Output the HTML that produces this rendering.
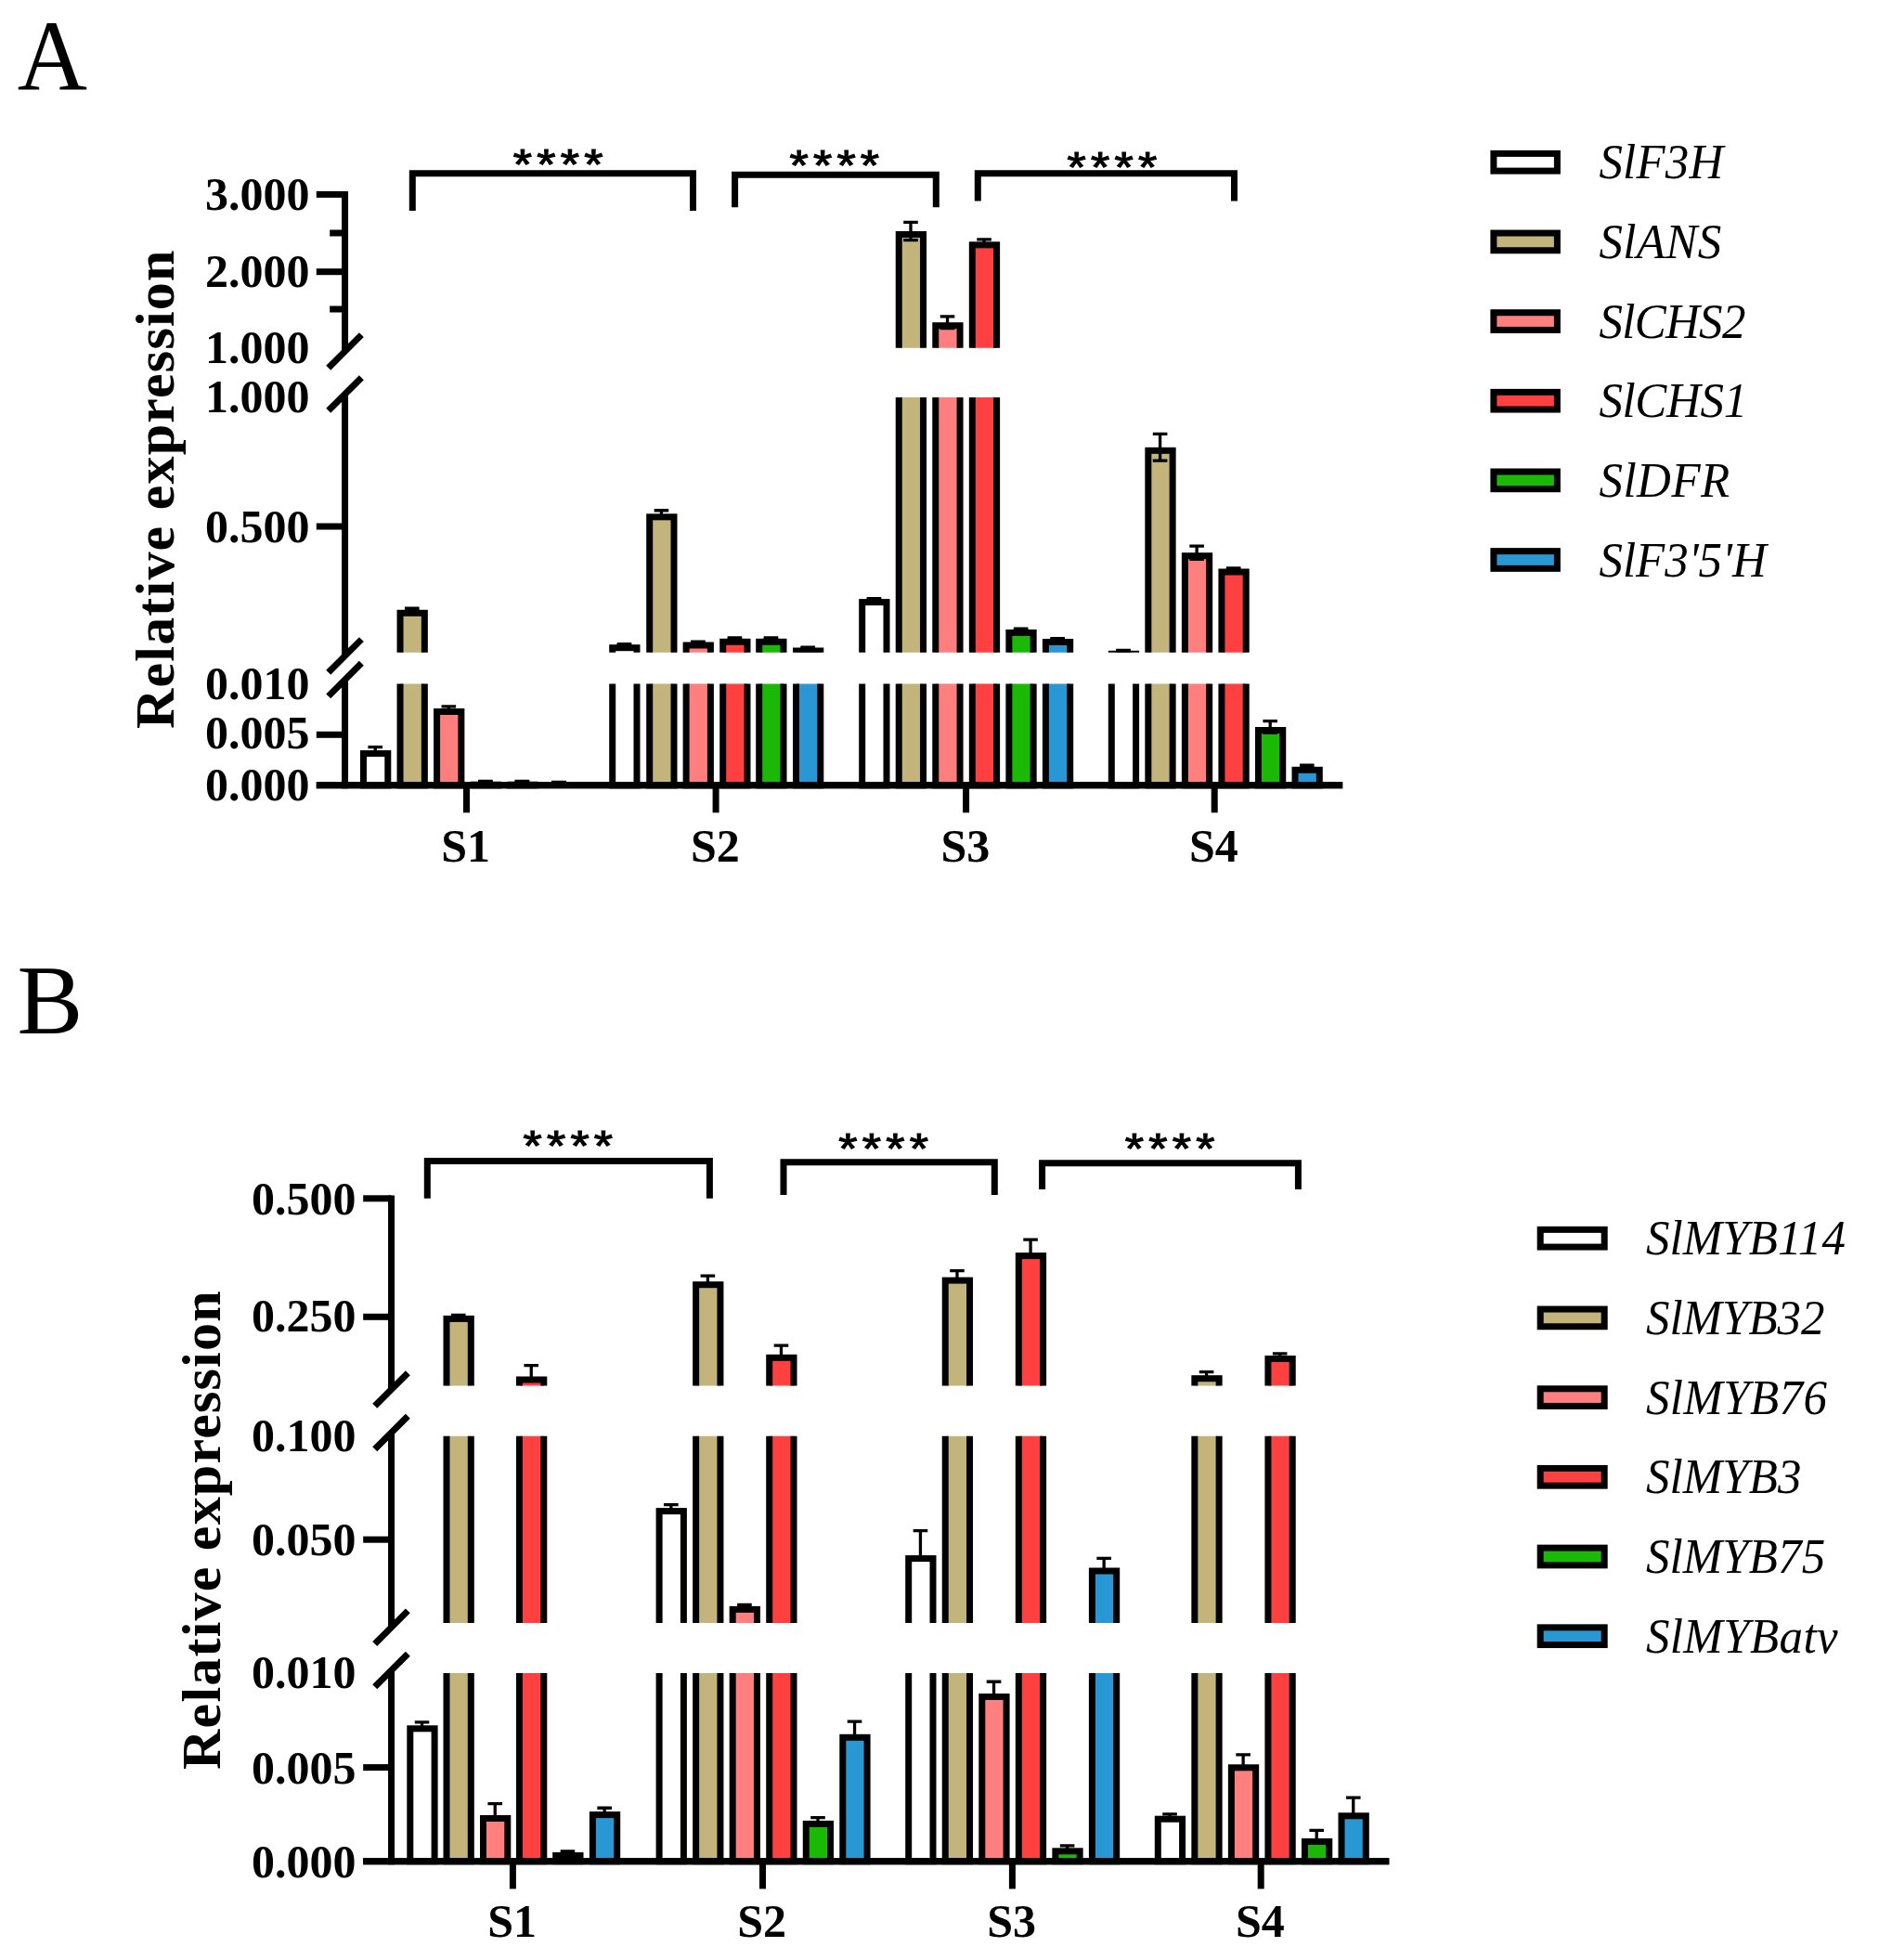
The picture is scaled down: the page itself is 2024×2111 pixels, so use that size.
<!DOCTYPE html>
<html lang="en"><head><meta charset="utf-8"><title>Relative expression</title>
<style>html,body{margin:0;padding:0;background:#fff;}svg{display:block;}text{fill:#000;}</style></head><body>
<svg width="2024" height="2111" viewBox="0 0 2024 2111">
<rect x="0" y="0" width="2024" height="2111" fill="#fff"/>
<text transform="translate(18.8 97.2) scale(0.968 1)" font-family='"Liberation Serif", serif' font-size="107.6">A</text>
<text x="18.5" y="1113" font-family='"Liberation Serif", serif' font-size="106.2" font-weight="normal" font-style="normal" text-anchor="start" >B</text>
<line x1="371.55" y1="206" x2="371.55" y2="378.45" stroke="#000" stroke-width="7" />
<line x1="371.55" y1="424.5" x2="371.55" y2="706.4" stroke="#000" stroke-width="7" />
<line x1="371.55" y1="732.1" x2="371.55" y2="849.35" stroke="#000" stroke-width="7" />
<line x1="353.75" y1="396.25" x2="389.35" y2="360.65" stroke="#000" stroke-width="7" />
<line x1="353.75" y1="442.3" x2="389.35" y2="406.7" stroke="#000" stroke-width="7" />
<line x1="353.75" y1="724.2" x2="389.35" y2="688.6" stroke="#000" stroke-width="7" />
<line x1="353.75" y1="749.9" x2="389.35" y2="714.3" stroke="#000" stroke-width="7" />
<line x1="340.8" y1="845.85" x2="1446.2" y2="845.85" stroke="#000" stroke-width="7" />
<line x1="340.8" y1="209.4" x2="371.55" y2="209.4" stroke="#000" stroke-width="7" />
<line x1="340.8" y1="292.7" x2="371.55" y2="292.7" stroke="#000" stroke-width="7" />
<line x1="340.8" y1="567" x2="371.55" y2="567" stroke="#000" stroke-width="7" />
<line x1="340.8" y1="791.3" x2="371.55" y2="791.3" stroke="#000" stroke-width="7" />
<line x1="355.2" y1="251" x2="371.55" y2="251" stroke="#000" stroke-width="7" />
<line x1="355.2" y1="333" x2="371.55" y2="333" stroke="#000" stroke-width="7" />
<text x="333.4" y="225.8" font-family='"Liberation Serif", serif' font-size="50" font-weight="bold" font-style="normal" text-anchor="end" >3.000</text>
<text x="333.4" y="308.8" font-family='"Liberation Serif", serif' font-size="50" font-weight="bold" font-style="normal" text-anchor="end" >2.000</text>
<text x="333.4" y="390.8" font-family='"Liberation Serif", serif' font-size="50" font-weight="bold" font-style="normal" text-anchor="end" >1.000</text>
<text x="333.4" y="444.1" font-family='"Liberation Serif", serif' font-size="50" font-weight="bold" font-style="normal" text-anchor="end" >1.000</text>
<text x="333.4" y="584.3" font-family='"Liberation Serif", serif' font-size="50" font-weight="bold" font-style="normal" text-anchor="end" >0.500</text>
<text x="333.4" y="753.1" font-family='"Liberation Serif", serif' font-size="50" font-weight="bold" font-style="normal" text-anchor="end" >0.010</text>
<text x="333.4" y="806.4" font-family='"Liberation Serif", serif' font-size="50" font-weight="bold" font-style="normal" text-anchor="end" >0.005</text>
<text x="333.4" y="861.9" font-family='"Liberation Serif", serif' font-size="50" font-weight="bold" font-style="normal" text-anchor="end" >0.000</text>
<line x1="502.5" y1="845.85" x2="502.5" y2="875.3" stroke="#000" stroke-width="7" />
<text x="501.7" y="928" font-family='"Liberation Serif", serif' font-size="50" font-weight="bold" font-style="normal" text-anchor="middle" >S1</text>
<line x1="771.1" y1="845.85" x2="771.1" y2="875.3" stroke="#000" stroke-width="7" />
<text x="770.3" y="928" font-family='"Liberation Serif", serif' font-size="50" font-weight="bold" font-style="normal" text-anchor="middle" >S2</text>
<line x1="1040.6" y1="845.85" x2="1040.6" y2="875.3" stroke="#000" stroke-width="7" />
<text x="1039.8" y="928" font-family='"Liberation Serif", serif' font-size="50" font-weight="bold" font-style="normal" text-anchor="middle" >S3</text>
<line x1="1308.2" y1="845.85" x2="1308.2" y2="875.3" stroke="#000" stroke-width="7" />
<text x="1307.4" y="928" font-family='"Liberation Serif", serif' font-size="50" font-weight="bold" font-style="normal" text-anchor="middle" >S4</text>
<text transform="translate(187.4 526.75) rotate(-90)" font-family='"Liberation Serif", serif' font-size="60" font-weight="bold" text-anchor="middle" letter-spacing="1.2">Relative expression</text>
<clipPath id="cba"><rect x="376" y="100" width="1200" height="274.8"/><rect x="376" y="428" width="1200" height="274.7"/><rect x="376" y="736.4" width="1200" height="200"/></clipPath>
<g clip-path="url(#cba)">
<rect x="391.5" y="811.6" width="26.3" height="34.25" fill="#FFFFFF" stroke="#000" stroke-width="7"/>
<line x1="404.25" y1="804.7" x2="404.25" y2="811.5" stroke="#000" stroke-width="3.3" />
<line x1="396.45" y1="804.7" x2="412.05" y2="804.7" stroke="#000" stroke-width="3.3" />
<line x1="396.45" y1="811.5" x2="412.05" y2="811.5" stroke="#000" stroke-width="3.3" />
<rect x="431.04" y="660.3" width="26.3" height="185.55" fill="#C2B47A" stroke="#000" stroke-width="7"/>
<line x1="443.79" y1="655.25" x2="443.79" y2="658.35" stroke="#000" stroke-width="3.3" />
<line x1="435.99" y1="655.25" x2="451.59" y2="655.25" stroke="#000" stroke-width="3.3" />
<line x1="435.99" y1="658.35" x2="451.59" y2="658.35" stroke="#000" stroke-width="3.3" />
<rect x="470.58" y="766.5" width="26.3" height="79.35" fill="#FF7F7F" stroke="#000" stroke-width="7"/>
<line x1="483.33" y1="760.85" x2="483.33" y2="765.15" stroke="#000" stroke-width="3.3" />
<line x1="475.53" y1="760.85" x2="491.13" y2="760.85" stroke="#000" stroke-width="3.3" />
<line x1="475.53" y1="765.15" x2="491.13" y2="765.15" stroke="#000" stroke-width="3.3" />
<rect x="510.12" y="845.2" width="26.3" height="0.65" fill="#FF4040" stroke="#000" stroke-width="7"/>
<line x1="522.87" y1="841.5" x2="522.87" y2="841.9" stroke="#000" stroke-width="3.3" />
<line x1="515.07" y1="841.5" x2="530.67" y2="841.5" stroke="#000" stroke-width="3.3" />
<line x1="515.07" y1="841.9" x2="530.67" y2="841.9" stroke="#000" stroke-width="3.3" />
<rect x="549.66" y="845.2" width="26.3" height="0.65" fill="#1AB905" stroke="#000" stroke-width="7"/>
<line x1="562.41" y1="841.5" x2="562.41" y2="841.9" stroke="#000" stroke-width="3.3" />
<line x1="554.61" y1="841.5" x2="570.21" y2="841.5" stroke="#000" stroke-width="3.3" />
<line x1="554.61" y1="841.9" x2="570.21" y2="841.9" stroke="#000" stroke-width="3.3" />
<line x1="601.95" y1="842.5" x2="601.95" y2="842.9" stroke="#000" stroke-width="3.3" />
<line x1="594.15" y1="842.5" x2="609.75" y2="842.5" stroke="#000" stroke-width="3.3" />
<line x1="594.15" y1="842.9" x2="609.75" y2="842.9" stroke="#000" stroke-width="3.3" />
<rect x="659.7" y="697.7" width="26.3" height="148.15" fill="#FFFFFF" stroke="#000" stroke-width="7"/>
<line x1="672.45" y1="693.65" x2="672.45" y2="694.75" stroke="#000" stroke-width="3.3" />
<line x1="664.65" y1="693.65" x2="680.25" y2="693.65" stroke="#000" stroke-width="3.3" />
<line x1="664.65" y1="694.75" x2="680.25" y2="694.75" stroke="#000" stroke-width="3.3" />
<rect x="699.7" y="556.8" width="26.3" height="289.05" fill="#C2B47A" stroke="#000" stroke-width="7"/>
<line x1="712.45" y1="549.75" x2="712.45" y2="556.85" stroke="#000" stroke-width="3.3" />
<line x1="704.65" y1="549.75" x2="720.25" y2="549.75" stroke="#000" stroke-width="3.3" />
<line x1="704.65" y1="556.85" x2="720.25" y2="556.85" stroke="#000" stroke-width="3.3" />
<rect x="739.1" y="695" width="26.3" height="150.85" fill="#FF7F7F" stroke="#000" stroke-width="7"/>
<line x1="751.85" y1="691.2" x2="751.85" y2="691.8" stroke="#000" stroke-width="3.3" />
<line x1="744.05" y1="691.2" x2="759.65" y2="691.2" stroke="#000" stroke-width="3.3" />
<line x1="744.05" y1="691.8" x2="759.65" y2="691.8" stroke="#000" stroke-width="3.3" />
<rect x="778.7" y="691.3" width="26.3" height="154.55" fill="#FF4040" stroke="#000" stroke-width="7"/>
<line x1="791.45" y1="686.85" x2="791.45" y2="688.75" stroke="#000" stroke-width="3.3" />
<line x1="783.65" y1="686.85" x2="799.25" y2="686.85" stroke="#000" stroke-width="3.3" />
<line x1="783.65" y1="688.75" x2="799.25" y2="688.75" stroke="#000" stroke-width="3.3" />
<rect x="817.7" y="691.3" width="26.3" height="154.55" fill="#1AB905" stroke="#000" stroke-width="7"/>
<line x1="830.45" y1="686.85" x2="830.45" y2="688.75" stroke="#000" stroke-width="3.3" />
<line x1="822.65" y1="686.85" x2="838.25" y2="686.85" stroke="#000" stroke-width="3.3" />
<line x1="822.65" y1="688.75" x2="838.25" y2="688.75" stroke="#000" stroke-width="3.3" />
<rect x="857.5" y="701" width="26.3" height="144.85" fill="#2897D4" stroke="#000" stroke-width="7"/>
<line x1="870.25" y1="697.15" x2="870.25" y2="697.85" stroke="#000" stroke-width="3.3" />
<line x1="862.45" y1="697.15" x2="878.05" y2="697.15" stroke="#000" stroke-width="3.3" />
<line x1="862.45" y1="697.85" x2="878.05" y2="697.85" stroke="#000" stroke-width="3.3" />
<rect x="928.7" y="648.6" width="26.3" height="197.25" fill="#FFFFFF" stroke="#000" stroke-width="7"/>
<line x1="941.45" y1="644.65" x2="941.45" y2="645.55" stroke="#000" stroke-width="3.3" />
<line x1="933.65" y1="644.65" x2="949.25" y2="644.65" stroke="#000" stroke-width="3.3" />
<line x1="933.65" y1="645.55" x2="949.25" y2="645.55" stroke="#000" stroke-width="3.3" />
<rect x="968.24" y="252.5" width="26.3" height="593.35" fill="#C2B47A" stroke="#000" stroke-width="7"/>
<line x1="980.99" y1="239.45" x2="980.99" y2="258.55" stroke="#000" stroke-width="3.3" />
<line x1="973.19" y1="239.45" x2="988.79" y2="239.45" stroke="#000" stroke-width="3.3" />
<line x1="973.19" y1="258.55" x2="988.79" y2="258.55" stroke="#000" stroke-width="3.3" />
<rect x="1007.78" y="350.7" width="26.3" height="495.15" fill="#FF7F7F" stroke="#000" stroke-width="7"/>
<line x1="1020.53" y1="340.9" x2="1020.53" y2="353.5" stroke="#000" stroke-width="3.3" />
<line x1="1012.73" y1="340.9" x2="1028.33" y2="340.9" stroke="#000" stroke-width="3.3" />
<line x1="1012.73" y1="353.5" x2="1028.33" y2="353.5" stroke="#000" stroke-width="3.3" />
<rect x="1047.32" y="263.8" width="26.3" height="582.05" fill="#FF4040" stroke="#000" stroke-width="7"/>
<line x1="1060.07" y1="257.8" x2="1060.07" y2="262.8" stroke="#000" stroke-width="3.3" />
<line x1="1052.27" y1="257.8" x2="1067.87" y2="257.8" stroke="#000" stroke-width="3.3" />
<line x1="1052.27" y1="262.8" x2="1067.87" y2="262.8" stroke="#000" stroke-width="3.3" />
<rect x="1086.86" y="681.5" width="26.3" height="164.35" fill="#1AB905" stroke="#000" stroke-width="7"/>
<line x1="1099.61" y1="677.05" x2="1099.61" y2="678.95" stroke="#000" stroke-width="3.3" />
<line x1="1091.81" y1="677.05" x2="1107.41" y2="677.05" stroke="#000" stroke-width="3.3" />
<line x1="1091.81" y1="678.95" x2="1107.41" y2="678.95" stroke="#000" stroke-width="3.3" />
<rect x="1126.4" y="691.5" width="26.3" height="154.35" fill="#2897D4" stroke="#000" stroke-width="7"/>
<line x1="1139.15" y1="687.65" x2="1139.15" y2="688.35" stroke="#000" stroke-width="3.3" />
<line x1="1131.35" y1="687.65" x2="1146.95" y2="687.65" stroke="#000" stroke-width="3.3" />
<line x1="1131.35" y1="688.35" x2="1146.95" y2="688.35" stroke="#000" stroke-width="3.3" />
<rect x="1197.3" y="704.3" width="26.3" height="141.55" fill="#FFFFFF" stroke="#000" stroke-width="7"/>
<line x1="1210.05" y1="700.5" x2="1210.05" y2="701.1" stroke="#000" stroke-width="3.3" />
<line x1="1202.25" y1="700.5" x2="1217.85" y2="700.5" stroke="#000" stroke-width="3.3" />
<line x1="1202.25" y1="701.1" x2="1217.85" y2="701.1" stroke="#000" stroke-width="3.3" />
<rect x="1236.84" y="485.3" width="26.3" height="360.55" fill="#C2B47A" stroke="#000" stroke-width="7"/>
<line x1="1249.59" y1="467.4" x2="1249.59" y2="496.2" stroke="#000" stroke-width="3.3" />
<line x1="1241.79" y1="467.4" x2="1257.39" y2="467.4" stroke="#000" stroke-width="3.3" />
<line x1="1241.79" y1="496.2" x2="1257.39" y2="496.2" stroke="#000" stroke-width="3.3" />
<rect x="1276.38" y="598.7" width="26.3" height="247.15" fill="#FF7F7F" stroke="#000" stroke-width="7"/>
<line x1="1289.13" y1="588.15" x2="1289.13" y2="602.25" stroke="#000" stroke-width="3.3" />
<line x1="1281.33" y1="588.15" x2="1296.93" y2="588.15" stroke="#000" stroke-width="3.3" />
<line x1="1281.33" y1="602.25" x2="1296.93" y2="602.25" stroke="#000" stroke-width="3.3" />
<rect x="1315.92" y="616" width="26.3" height="229.85" fill="#FF4040" stroke="#000" stroke-width="7"/>
<line x1="1328.67" y1="611.95" x2="1328.67" y2="613.05" stroke="#000" stroke-width="3.3" />
<line x1="1320.87" y1="611.95" x2="1336.47" y2="611.95" stroke="#000" stroke-width="3.3" />
<line x1="1320.87" y1="613.05" x2="1336.47" y2="613.05" stroke="#000" stroke-width="3.3" />
<rect x="1355.46" y="786.5" width="26.3" height="59.35" fill="#1AB905" stroke="#000" stroke-width="7"/>
<line x1="1368.21" y1="776.65" x2="1368.21" y2="789.35" stroke="#000" stroke-width="3.3" />
<line x1="1360.41" y1="776.65" x2="1376.01" y2="776.65" stroke="#000" stroke-width="3.3" />
<line x1="1360.41" y1="789.35" x2="1376.01" y2="789.35" stroke="#000" stroke-width="3.3" />
<rect x="1395" y="829.3" width="26.3" height="16.55" fill="#2897D4" stroke="#000" stroke-width="7"/>
<line x1="1407.75" y1="824.25" x2="1407.75" y2="827.35" stroke="#000" stroke-width="3.3" />
<line x1="1399.95" y1="824.25" x2="1415.55" y2="824.25" stroke="#000" stroke-width="3.3" />
<line x1="1399.95" y1="827.35" x2="1415.55" y2="827.35" stroke="#000" stroke-width="3.3" />
</g>
<line x1="340.8" y1="845.85" x2="1446.2" y2="845.85" stroke="#000" stroke-width="7" />
<path d="M444.3 226.9 V186.7 H746.5 V226.9" fill="none" stroke="#000" stroke-width="7" stroke-linejoin="miter"/>
<path d="M791.6 223.2 V188.2 H1008.3 V223.2" fill="none" stroke="#000" stroke-width="7" stroke-linejoin="miter"/>
<path d="M1053.3 216.4 V186.8 H1329.5 V216.4" fill="none" stroke="#000" stroke-width="7" stroke-linejoin="miter"/>
<text transform="translate(603.8 192.7) scale(1 0.9)" font-family='"Liberation Sans", sans-serif' font-size="52" stroke="#000" stroke-width="1.3" stroke-linejoin="miter" text-anchor="middle" letter-spacing="5.25">****</text>
<text transform="translate(901.4 194.2) scale(1 0.9)" font-family='"Liberation Sans", sans-serif' font-size="52" stroke="#000" stroke-width="1.3" stroke-linejoin="miter" text-anchor="middle" letter-spacing="5.25">****</text>
<text transform="translate(1200.5 196.2) scale(1 0.9)" font-family='"Liberation Sans", sans-serif' font-size="52" stroke="#000" stroke-width="1.3" stroke-linejoin="miter" text-anchor="middle" letter-spacing="5.25">****</text>
<rect x="1608.9" y="165.4" width="68.5" height="18.7" fill="#FFFFFF" stroke="#000" stroke-width="7"/>
<text transform="translate(1722.4 192.35) scale(1 1.03)" font-family='"Liberation Serif", serif' font-size="51" font-style="italic" letter-spacing="0.2">SlF3H</text>
<rect x="1608.9" y="251.05" width="68.5" height="18.7" fill="#C2B47A" stroke="#000" stroke-width="7"/>
<text transform="translate(1722.4 278) scale(1 1.03)" font-family='"Liberation Serif", serif' font-size="51" font-style="italic" letter-spacing="0.35">SlANS</text>
<rect x="1608.9" y="336.7" width="68.5" height="18.7" fill="#FF7F7F" stroke="#000" stroke-width="7"/>
<text transform="translate(1722.4 363.65) scale(1 1.03)" font-family='"Liberation Serif", serif' font-size="51" font-style="italic" letter-spacing="-0.7">SlCHS2</text>
<rect x="1608.9" y="422.35" width="68.5" height="18.7" fill="#FF4040" stroke="#000" stroke-width="7"/>
<text transform="translate(1722.4 449.3) scale(1 1.03)" font-family='"Liberation Serif", serif' font-size="51" font-style="italic" letter-spacing="-0.35">SlCHS1</text>
<rect x="1608.9" y="508" width="68.5" height="18.7" fill="#1AB905" stroke="#000" stroke-width="7"/>
<text transform="translate(1722.4 534.95) scale(1 1.03)" font-family='"Liberation Serif", serif' font-size="51" font-style="italic" letter-spacing="0.5">SlDFR</text>
<rect x="1608.9" y="593.65" width="68.5" height="18.7" fill="#2897D4" stroke="#000" stroke-width="7"/>
<text transform="translate(1722.4 620.6) scale(1 1.03)" font-family='"Liberation Serif", serif' font-size="51" font-style="italic" letter-spacing="0.0">SlF3'5'H</text>
<line x1="421.55" y1="1287.5" x2="421.55" y2="1496.5" stroke="#000" stroke-width="7" />
<line x1="421.55" y1="1543" x2="421.55" y2="1752.7" stroke="#000" stroke-width="7" />
<line x1="421.55" y1="1799" x2="421.55" y2="2008.2" stroke="#000" stroke-width="7" />
<line x1="403.75" y1="1514.3" x2="439.35" y2="1478.7" stroke="#000" stroke-width="7" />
<line x1="403.75" y1="1560.8" x2="439.35" y2="1525.2" stroke="#000" stroke-width="7" />
<line x1="403.75" y1="1770.5" x2="439.35" y2="1734.9" stroke="#000" stroke-width="7" />
<line x1="403.75" y1="1816.8" x2="439.35" y2="1781.2" stroke="#000" stroke-width="7" />
<line x1="391.2" y1="2004.7" x2="1496.3" y2="2004.7" stroke="#000" stroke-width="7" />
<line x1="391.2" y1="1290.8" x2="421.55" y2="1290.8" stroke="#000" stroke-width="7" />
<line x1="391.2" y1="1418.3" x2="421.55" y2="1418.3" stroke="#000" stroke-width="7" />
<line x1="391.2" y1="1658.2" x2="421.55" y2="1658.2" stroke="#000" stroke-width="7" />
<line x1="391.2" y1="1903.6" x2="421.55" y2="1903.6" stroke="#000" stroke-width="7" />
<text x="383.4" y="1307.8" font-family='"Liberation Serif", serif' font-size="50" font-weight="bold" font-style="normal" text-anchor="end" >0.500</text>
<text x="383.4" y="1434.4" font-family='"Liberation Serif", serif' font-size="50" font-weight="bold" font-style="normal" text-anchor="end" >0.250</text>
<text x="383.4" y="1563.1" font-family='"Liberation Serif", serif' font-size="50" font-weight="bold" font-style="normal" text-anchor="end" >0.100</text>
<text x="383.4" y="1675.1" font-family='"Liberation Serif", serif' font-size="50" font-weight="bold" font-style="normal" text-anchor="end" >0.050</text>
<text x="383.4" y="1818.1" font-family='"Liberation Serif", serif' font-size="50" font-weight="bold" font-style="normal" text-anchor="end" >0.010</text>
<text x="383.4" y="1920.7" font-family='"Liberation Serif", serif' font-size="50" font-weight="bold" font-style="normal" text-anchor="end" >0.005</text>
<text x="383.4" y="2021.6" font-family='"Liberation Serif", serif' font-size="50" font-weight="bold" font-style="normal" text-anchor="end" >0.000</text>
<line x1="552.4" y1="2004.7" x2="552.4" y2="2034.4" stroke="#000" stroke-width="7" />
<text x="551.6" y="2086.3" font-family='"Liberation Serif", serif' font-size="50" font-weight="bold" font-style="normal" text-anchor="middle" >S1</text>
<line x1="821.5" y1="2004.7" x2="821.5" y2="2034.4" stroke="#000" stroke-width="7" />
<text x="820.7" y="2086.3" font-family='"Liberation Serif", serif' font-size="50" font-weight="bold" font-style="normal" text-anchor="middle" >S2</text>
<line x1="1090.4" y1="2004.7" x2="1090.4" y2="2034.4" stroke="#000" stroke-width="7" />
<text x="1089.6" y="2086.3" font-family='"Liberation Serif", serif' font-size="50" font-weight="bold" font-style="normal" text-anchor="middle" >S3</text>
<line x1="1358.2" y1="2004.7" x2="1358.2" y2="2034.4" stroke="#000" stroke-width="7" />
<text x="1357.4" y="2086.3" font-family='"Liberation Serif", serif' font-size="50" font-weight="bold" font-style="normal" text-anchor="middle" >S4</text>
<text transform="translate(237.4 1647.6) rotate(-90)" font-family='"Liberation Serif", serif' font-size="60" font-weight="bold" text-anchor="middle" letter-spacing="1.2">Relative expression</text>
<clipPath id="cbb"><rect x="426" y="1200" width="1200" height="292.6"/><rect x="426" y="1546.8" width="1200" height="201.2"/><rect x="426" y="1802" width="1200" height="300"/></clipPath>
<g clip-path="url(#cbb)">
<rect x="441.8" y="1861.8" width="26.3" height="142.9" fill="#FFFFFF" stroke="#000" stroke-width="7"/>
<line x1="454.55" y1="1854.85" x2="454.55" y2="1859.3" stroke="#000" stroke-width="3.3" />
<line x1="446.75" y1="1854.85" x2="462.35" y2="1854.85" stroke="#000" stroke-width="3.3" />
<rect x="481" y="1420.4" width="26.3" height="584.3" fill="#C2B47A" stroke="#000" stroke-width="7"/>
<line x1="493.75" y1="1416.35" x2="493.75" y2="1417.9" stroke="#000" stroke-width="3.3" />
<line x1="485.95" y1="1416.35" x2="501.55" y2="1416.35" stroke="#000" stroke-width="3.3" />
<rect x="520.5" y="1958.5" width="26.3" height="46.2" fill="#FF7F7F" stroke="#000" stroke-width="7"/>
<line x1="533.25" y1="1942.55" x2="533.25" y2="1956" stroke="#000" stroke-width="3.3" />
<line x1="525.45" y1="1942.55" x2="541.05" y2="1942.55" stroke="#000" stroke-width="3.3" />
<rect x="559.5" y="1486" width="26.3" height="518.7" fill="#FF4040" stroke="#000" stroke-width="7"/>
<line x1="572.25" y1="1470.65" x2="572.25" y2="1483.5" stroke="#000" stroke-width="3.3" />
<line x1="564.45" y1="1470.65" x2="580.05" y2="1470.65" stroke="#000" stroke-width="3.3" />
<rect x="598.7" y="1998.5" width="26.3" height="6.2" fill="#1AB905" stroke="#000" stroke-width="7"/>
<line x1="611.45" y1="1993.95" x2="611.45" y2="1996" stroke="#000" stroke-width="3.3" />
<line x1="603.65" y1="1993.95" x2="619.25" y2="1993.95" stroke="#000" stroke-width="3.3" />
<rect x="638.4" y="1954.6" width="26.3" height="50.1" fill="#2897D4" stroke="#000" stroke-width="7"/>
<line x1="651.15" y1="1947.25" x2="651.15" y2="1952.1" stroke="#000" stroke-width="3.3" />
<line x1="643.35" y1="1947.25" x2="658.95" y2="1947.25" stroke="#000" stroke-width="3.3" />
<rect x="710.1" y="1627.6" width="26.3" height="377.1" fill="#FFFFFF" stroke="#000" stroke-width="7"/>
<line x1="722.85" y1="1620.65" x2="722.85" y2="1625.1" stroke="#000" stroke-width="3.3" />
<line x1="715.05" y1="1620.65" x2="730.65" y2="1620.65" stroke="#000" stroke-width="3.3" />
<rect x="749.64" y="1383.7" width="26.3" height="621" fill="#C2B47A" stroke="#000" stroke-width="7"/>
<line x1="762.39" y1="1374.15" x2="762.39" y2="1381.2" stroke="#000" stroke-width="3.3" />
<line x1="754.59" y1="1374.15" x2="770.19" y2="1374.15" stroke="#000" stroke-width="3.3" />
<rect x="789.18" y="1733.4" width="26.3" height="271.3" fill="#FF7F7F" stroke="#000" stroke-width="7"/>
<line x1="801.93" y1="1728.45" x2="801.93" y2="1730.9" stroke="#000" stroke-width="3.3" />
<line x1="794.13" y1="1728.45" x2="809.73" y2="1728.45" stroke="#000" stroke-width="3.3" />
<rect x="828.72" y="1462.3" width="26.3" height="542.4" fill="#FF4040" stroke="#000" stroke-width="7"/>
<line x1="841.47" y1="1449.05" x2="841.47" y2="1459.8" stroke="#000" stroke-width="3.3" />
<line x1="833.67" y1="1449.05" x2="849.27" y2="1449.05" stroke="#000" stroke-width="3.3" />
<rect x="868.26" y="1964.4" width="26.3" height="40.3" fill="#1AB905" stroke="#000" stroke-width="7"/>
<line x1="881.01" y1="1957.65" x2="881.01" y2="1961.9" stroke="#000" stroke-width="3.3" />
<line x1="873.21" y1="1957.65" x2="888.81" y2="1957.65" stroke="#000" stroke-width="3.3" />
<rect x="907.8" y="1871.3" width="26.3" height="133.4" fill="#2897D4" stroke="#000" stroke-width="7"/>
<line x1="920.55" y1="1854.05" x2="920.55" y2="1868.8" stroke="#000" stroke-width="3.3" />
<line x1="912.75" y1="1854.05" x2="928.35" y2="1854.05" stroke="#000" stroke-width="3.3" />
<rect x="978.7" y="1678.6" width="26.3" height="326.1" fill="#FFFFFF" stroke="#000" stroke-width="7"/>
<line x1="991.45" y1="1648.65" x2="991.45" y2="1676.1" stroke="#000" stroke-width="3.3" />
<line x1="983.65" y1="1648.65" x2="999.25" y2="1648.65" stroke="#000" stroke-width="3.3" />
<rect x="1018.24" y="1379.1" width="26.3" height="625.6" fill="#C2B47A" stroke="#000" stroke-width="7"/>
<line x1="1030.99" y1="1368.65" x2="1030.99" y2="1376.6" stroke="#000" stroke-width="3.3" />
<line x1="1023.19" y1="1368.65" x2="1038.79" y2="1368.65" stroke="#000" stroke-width="3.3" />
<rect x="1057.78" y="1827.5" width="26.3" height="177.2" fill="#FF7F7F" stroke="#000" stroke-width="7"/>
<line x1="1070.53" y1="1811.25" x2="1070.53" y2="1825" stroke="#000" stroke-width="3.3" />
<line x1="1062.73" y1="1811.25" x2="1078.33" y2="1811.25" stroke="#000" stroke-width="3.3" />
<rect x="1097.32" y="1352.6" width="26.3" height="652.1" fill="#FF4040" stroke="#000" stroke-width="7"/>
<line x1="1110.07" y1="1335.15" x2="1110.07" y2="1350.1" stroke="#000" stroke-width="3.3" />
<line x1="1102.27" y1="1335.15" x2="1117.87" y2="1335.15" stroke="#000" stroke-width="3.3" />
<rect x="1136.86" y="1993.8" width="26.3" height="10.9" fill="#1AB905" stroke="#000" stroke-width="7"/>
<line x1="1149.61" y1="1987.85" x2="1149.61" y2="1991.3" stroke="#000" stroke-width="3.3" />
<line x1="1141.81" y1="1987.85" x2="1157.41" y2="1987.85" stroke="#000" stroke-width="3.3" />
<rect x="1176.4" y="1692" width="26.3" height="312.7" fill="#2897D4" stroke="#000" stroke-width="7"/>
<line x1="1189.15" y1="1678.45" x2="1189.15" y2="1689.5" stroke="#000" stroke-width="3.3" />
<line x1="1181.35" y1="1678.45" x2="1196.95" y2="1678.45" stroke="#000" stroke-width="3.3" />
<rect x="1247.3" y="1959.2" width="26.3" height="45.5" fill="#FFFFFF" stroke="#000" stroke-width="7"/>
<line x1="1260.05" y1="1953.95" x2="1260.05" y2="1956.7" stroke="#000" stroke-width="3.3" />
<line x1="1252.25" y1="1953.95" x2="1267.85" y2="1953.95" stroke="#000" stroke-width="3.3" />
<rect x="1286.84" y="1484.7" width="26.3" height="520" fill="#C2B47A" stroke="#000" stroke-width="7"/>
<line x1="1299.59" y1="1477.55" x2="1299.59" y2="1482.2" stroke="#000" stroke-width="3.3" />
<line x1="1291.79" y1="1477.55" x2="1307.39" y2="1477.55" stroke="#000" stroke-width="3.3" />
<rect x="1326.38" y="1903.8" width="26.3" height="100.9" fill="#FF7F7F" stroke="#000" stroke-width="7"/>
<line x1="1339.13" y1="1889.95" x2="1339.13" y2="1901.3" stroke="#000" stroke-width="3.3" />
<line x1="1331.33" y1="1889.95" x2="1346.93" y2="1889.95" stroke="#000" stroke-width="3.3" />
<rect x="1365.92" y="1463.5" width="26.3" height="541.2" fill="#FF4040" stroke="#000" stroke-width="7"/>
<line x1="1378.67" y1="1457.85" x2="1378.67" y2="1461" stroke="#000" stroke-width="3.3" />
<line x1="1370.87" y1="1457.85" x2="1386.47" y2="1457.85" stroke="#000" stroke-width="3.3" />
<rect x="1405.46" y="1983.5" width="26.3" height="21.2" fill="#1AB905" stroke="#000" stroke-width="7"/>
<line x1="1418.21" y1="1971.45" x2="1418.21" y2="1981" stroke="#000" stroke-width="3.3" />
<line x1="1410.41" y1="1971.45" x2="1426.01" y2="1971.45" stroke="#000" stroke-width="3.3" />
<rect x="1445" y="1955.8" width="26.3" height="48.9" fill="#2897D4" stroke="#000" stroke-width="7"/>
<line x1="1457.75" y1="1936.15" x2="1457.75" y2="1953.3" stroke="#000" stroke-width="3.3" />
<line x1="1449.95" y1="1936.15" x2="1465.55" y2="1936.15" stroke="#000" stroke-width="3.3" />
</g>
<line x1="391.2" y1="2004.7" x2="1496.3" y2="2004.7" stroke="#000" stroke-width="7" />
<path d="M460.3 1290.8 V1250.5 H764.4 V1290.8" fill="none" stroke="#000" stroke-width="7" stroke-linejoin="miter"/>
<path d="M844 1287 V1251.7 H1071.3 V1287" fill="none" stroke="#000" stroke-width="7" stroke-linejoin="miter"/>
<path d="M1122.6 1281 V1252.8 H1398.4 V1281" fill="none" stroke="#000" stroke-width="7" stroke-linejoin="miter"/>
<text transform="translate(614.4 1249.7) scale(1 0.9)" font-family='"Liberation Sans", sans-serif' font-size="52" stroke="#000" stroke-width="1.3" stroke-linejoin="miter" text-anchor="middle" letter-spacing="5.25">****</text>
<text transform="translate(954.2 1253.2) scale(1 0.9)" font-family='"Liberation Sans", sans-serif' font-size="52" stroke="#000" stroke-width="1.3" stroke-linejoin="miter" text-anchor="middle" letter-spacing="5.25">****</text>
<text transform="translate(1262.8 1253.2) scale(1 0.9)" font-family='"Liberation Sans", sans-serif' font-size="52" stroke="#000" stroke-width="1.3" stroke-linejoin="miter" text-anchor="middle" letter-spacing="5.25">****</text>
<rect x="1659.2" y="1324.35" width="69" height="18.7" fill="#FFFFFF" stroke="#000" stroke-width="7"/>
<text transform="translate(1772.9 1351.1) scale(1 1.03)" font-family='"Liberation Serif", serif' font-size="51" font-style="italic" letter-spacing="0.1">SlMYB114</text>
<rect x="1659.2" y="1410.05" width="69" height="18.7" fill="#C2B47A" stroke="#000" stroke-width="7"/>
<text transform="translate(1772.9 1436.8) scale(1 1.03)" font-family='"Liberation Serif", serif' font-size="51" font-style="italic" letter-spacing="0.0">SlMYB32</text>
<rect x="1659.2" y="1495.75" width="69" height="18.7" fill="#FF7F7F" stroke="#000" stroke-width="7"/>
<text transform="translate(1772.9 1522.5) scale(1 1.03)" font-family='"Liberation Serif", serif' font-size="51" font-style="italic" letter-spacing="0.4">SlMYB76</text>
<rect x="1659.2" y="1581.45" width="69" height="18.7" fill="#FF4040" stroke="#000" stroke-width="7"/>
<text transform="translate(1772.9 1608.2) scale(1 1.03)" font-family='"Liberation Serif", serif' font-size="51" font-style="italic" letter-spacing="0.1">SlMYB3</text>
<rect x="1659.2" y="1667.15" width="69" height="18.7" fill="#1AB905" stroke="#000" stroke-width="7"/>
<text transform="translate(1772.9 1693.9) scale(1 1.03)" font-family='"Liberation Serif", serif' font-size="51" font-style="italic" letter-spacing="0.1">SlMYB75</text>
<rect x="1659.2" y="1752.85" width="69" height="18.7" fill="#2897D4" stroke="#000" stroke-width="7"/>
<text transform="translate(1772.9 1779.6) scale(1 1.03)" font-family='"Liberation Serif", serif' font-size="51" font-style="italic" letter-spacing="0.4">SlMYBatv</text>
</svg></body></html>
